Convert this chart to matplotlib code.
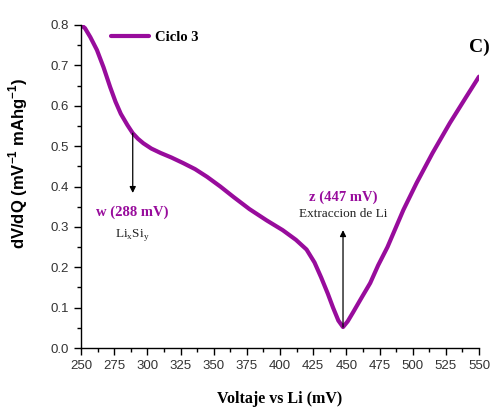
import matplotlib.pyplot as plt
from matplotlib.ticker import MultipleLocator, FormatStrFormatter

# curve (mV, dV/dQ)
voltaje = [250, 253, 257, 262, 267, 272, 276, 280, 285, 289, 293, 297, 303, 310,
           318, 327, 336, 345, 355, 365, 377, 390, 402, 412, 420, 426, 431, 436,
           440, 444, 447.5, 451, 455, 461, 468, 474, 481, 487, 493, 503, 515, 528,
           540, 550]
dvdq = [0.800, 0.792, 0.770, 0.738, 0.695, 0.646, 0.610, 0.580, 0.552, 0.532,
        0.518, 0.507, 0.494, 0.483, 0.472, 0.458, 0.443, 0.424, 0.400, 0.374,
        0.344, 0.316, 0.292, 0.268, 0.244, 0.212, 0.175, 0.135, 0.100, 0.068,
        0.052, 0.066, 0.088, 0.122, 0.161, 0.205, 0.250, 0.296, 0.342, 0.409,
        0.483, 0.557, 0.620, 0.672]

picos = [289, 447.5]
pico_y = [0.532, 0.052]
flecha_y = [0.384, 0.292]

morado = "#980c9c"
serif = "Liberation Serif"
sans = "Liberation Sans"

fig = plt.figure(figsize=(5, 4.09), dpi=100)
ax = fig.add_axes([0.162, 0.149, 0.796, 0.790])

ax.plot(voltaje, dvdq, color=morado, lw=3, label="Ciclo 3", solid_capstyle="round")

for xp, y0, y1 in zip(picos, pico_y, flecha_y):
    ax.annotate("", xy=(xp, y1), xytext=(xp, y0),
                arrowprops=dict(arrowstyle="-|>", color="black", lw=0.9,
                                mutation_scale=9, shrinkA=0, shrinkB=0))

ax.text(289, 0.335, "w (288 mV)", color=morado, fontsize=10.5, fontweight="bold",
        family=serif, ha="center", va="center")
ax.text(289, 0.280, r"Li$_\mathregular{x}$Si$_\mathregular{y}$", color="#222222",
        fontsize=9.5, family=serif, ha="center", va="center")
ax.text(448, 0.373, "z (447 mV)", color=morado, fontsize=10.5, fontweight="bold",
        family=serif, ha="center", va="center")
ax.text(448, 0.332, "Extraccion de Li", color="#222222", fontsize=9.5,
        family=serif, ha="center", va="center")

ax.set_xlim(250, 550)
ax.set_ylim(0, 0.8)
ax.xaxis.set_major_locator(MultipleLocator(25))
ax.xaxis.set_minor_locator(MultipleLocator(12.5))
ax.yaxis.set_major_locator(MultipleLocator(0.1))
ax.yaxis.set_minor_locator(MultipleLocator(0.05))
ax.yaxis.set_major_formatter(FormatStrFormatter("%.1f"))

for s in ["top", "right"]:
    ax.spines[s].set_visible(False)
for s in ["left", "bottom"]:
    ax.spines[s].set_linewidth(1.0)

ax.tick_params(which="major", direction="out", length=5, width=1, labelsize=9.5,
               colors="black")
ax.tick_params(which="minor", direction="out", length=3, width=1)
for lab in ax.get_xticklabels() + ax.get_yticklabels():
    lab.set_family(sans)
    lab.set_color("#333333")

ax.set_xlabel("Voltaje vs Li (mV)", family=serif, fontweight="bold", fontsize=11.5,
              labelpad=14)
ax.set_ylabel(r"dV/dQ (mV$^\mathregular{-1}$ mAhg$^\mathregular{-1}$)", family=sans,
              fontweight="bold", fontsize=12)
ax.yaxis.set_label_coords(-0.128, 0.573)

leg = ax.legend(loc="upper left", bbox_to_anchor=(0.043, 1.022), frameon=False,
                handlelength=2.6, handletextpad=0.4,
                prop=dict(family=serif, weight="bold", size=10.5))

fig.text(0.958, 0.885, "C)", family=serif, fontweight="bold", fontsize=14,
         ha="center", va="center")

fig.savefig("out.png", dpi=100)
